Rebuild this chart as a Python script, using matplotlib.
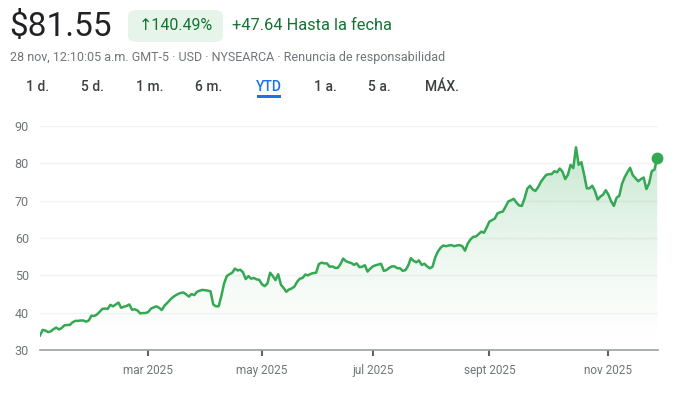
import matplotlib
matplotlib.use("Agg")
import matplotlib.pyplot as plt
from matplotlib.patches import FancyBboxPatch, Rectangle
import numpy as np
import pandas as pd

plt.rcParams["font.family"] = ["Roboto", "DejaVu Sans"]

# daily closes, Dec 31 2024 (YTD base) through Nov 28 2025
closes = [
    33.91,
    # jan
    35.4, 35.2, 34.8, 35.0, 35.6, 36.0, 35.5, 35.9, 36.6, 36.7,
    36.7, 37.4, 37.8, 37.8, 37.9, 37.9, 37.6, 37.9, 39.2, 39.1,
    # feb
    39.5, 40.2, 41.0, 41.1, 41.0, 42.1, 41.7, 42.2, 42.7, 41.3,
    41.6, 41.8, 42.2, 40.8, 40.9, 40.6, 39.8, 39.9, 39.9,
    # mar
    40.2, 41.1, 41.4, 41.7, 41.3, 40.7, 41.9, 42.6, 43.4, 44.1,
    44.6, 45.0, 45.3, 45.4, 44.9, 44.3, 45.0, 44.7, 45.6, 45.9, 46.1,
    # apr
    46.0, 45.9, 45.7, 42.2, 41.7, 41.7, 44.5, 47.8, 49.8, 50.3,
    50.7, 51.8, 51.3, 51.5, 50.8, 49.0, 49.8, 49.1, 49.3, 48.9, 48.8,
    # may
    47.6, 47.1, 47.8, 50.7, 49.8, 48.7, 50.3, 47.5, 46.6, 45.6,
    46.2, 46.5, 47.0, 48.3, 49.1, 49.3, 50.2, 50.0, 50.4, 50.6, 50.7,
    # jun
    53.0, 53.4, 53.2, 53.2, 52.3, 52.4, 52.0, 52.0, 53.0, 54.5,
    53.8, 53.5, 53.3, 52.8, 53.2, 52.2, 52.3, 52.7, 51.0, 51.8,
    # jul
    52.4, 52.7, 52.9, 53.1, 51.2, 51.4, 52.0, 52.4, 52.4, 51.9, 51.9,
    51.2, 51.4, 52.6, 54.6, 53.9, 53.5, 54.0, 52.8, 53.1, 52.4, 51.9,
    # aug
    52.3, 54.8, 56.4, 57.4, 58.0, 57.8, 58.0, 58.1, 57.8, 58.0,
    58.1, 57.8, 56.6, 58.5, 59.6, 60.3, 60.4, 61.0, 61.7, 61.4, 62.8,
    # sep
    64.4, 64.8, 65.2, 66.6, 66.9, 67.1, 68.4, 69.8, 70.1, 70.5,
    69.5, 68.7, 68.6, 70.6, 73.2, 74.0, 73.0, 72.6, 73.6, 75.0, 76.0,
    # oct
    76.9, 77.1, 77.1, 77.9, 77.6, 78.6, 77.8, 75.8, 76.9, 79.6, 78.7, 84.3,
    79.6, 80.3, 77.0, 73.3, 73.3, 74.0, 72.6, 70.3, 71.1, 71.6, 72.8,
    # nov
    71.6, 69.8, 68.6, 70.8, 71.3, 74.5, 76.3, 77.6, 78.8, 76.8,
    76.0, 75.2, 75.8, 76.2, 73.1, 74.6, 77.9, 78.3, 81.55,
]

holidays = ["2025-01-01", "2025-01-09", "2025-01-20", "2025-02-17", "2025-04-18",
            "2025-05-26", "2025-06-19", "2025-07-04", "2025-09-01", "2025-11-27"]
tick_months = [3, 5, 7, 9, 11]
tick_labels = ["mar 2025", "may 2025", "jul 2025", "sept 2025", "nov 2025"]
y_ticks = [30, 40, 50, 60, 70, 80, 90]
tabs = ["1 d.", "5 d.", "1 m.", "6 m.", "YTD", "1 a.", "5 a.", "MÁX."]
tab_x = [37, 92, 150, 209, 269, 325, 379, 442]

GREEN = "#34a853"
TEXT_GREEN = "#137333"
GRAY = "#70757a"

days = pd.bdate_range("2024-12-31", "2025-11-28")
days = days[~days.isin(pd.to_datetime(holidays))]
x = np.arange(len(closes))
tick_pos = [int(np.argmax(days.month == m)) for m in tick_months]

W, H = 673, 393
fig = plt.figure(figsize=(W / 100, H / 100), dpi=100)


def fx(px):
    return px / W


def fy(py):
    return 1 - py / H


ax = fig.add_axes([fx(40), fy(350), fx(658) - fx(40), fy(126) - fy(350)])
ax.set_xlim(0, len(closes) - 0.7)
ax.set_ylim(30, 90)

# gradient fill under the line
poly = ax.fill_between(x, closes, 30, color="none", lw=0)
grad_y = np.linspace(0, 1, 256)
rgba = np.zeros((256, 1, 4))
rgba[..., :3] = matplotlib.colors.to_rgb(GREEN)
rgba[:, 0, 3] = 0.32 * grad_y ** 1.5
img = ax.imshow(rgba, extent=[0, len(closes) - 1, 30, 90], origin="lower",
                aspect="auto", zorder=1)
img.set_clip_path(poly.get_paths()[0], transform=ax.transData)

ax.plot(x, closes, color=GREEN, lw=1.8, zorder=3, solid_joinstyle="round")
ax.plot(x[-1], closes[-1], "o", color=GREEN, ms=7.5, zorder=4, clip_on=False)

ax.set_yticks(y_ticks)
ax.set_xticks(tick_pos)
ax.set_xticklabels(tick_labels)
ax.grid(axis="y", color="#f1f3f4", lw=1)
ax.set_axisbelow(True)
for side in ["top", "right", "left"]:
    ax.spines[side].set_visible(False)
ax.spines["bottom"].set_color("#9aa0a6")
ax.spines["bottom"].set_linewidth(1.2)
ax.tick_params(axis="y", length=0, pad=8, labelsize=9, labelcolor=GRAY)
ax.tick_params(axis="x", length=4, width=1.5, color="#5f6368", pad=6,
               labelsize=8.5, labelcolor=GRAY)

# header
fig.text(fx(9), fy(27), "$81.55", fontsize=24, color="#202124", va="center", ha="left")
fig.patches.append(FancyBboxPatch((fx(128), fy(42)), fx(223) - fx(128), fy(10) - fy(42),
                                  boxstyle="round,pad=0,rounding_size=0.015",
                                  transform=fig.transFigure, fc="#e6f4ea", ec="none"))
fig.text(fx(176), fy(26), "↑140.49%", fontsize=11.5, color=TEXT_GREEN,
         va="center", ha="center", family=["Roboto", "DejaVu Sans"])
fig.text(fx(232), fy(26), "+47.64 Hasta la fecha", fontsize=11.8, color=TEXT_GREEN,
         va="center", ha="left")
fig.text(fx(10), fy(58), "28 nov, 12:10:05 a.m. GMT-5 · USD · NYSEARCA · Renuncia de responsabilidad",
         fontsize=9.0, color=GRAY, va="center", ha="left")

for label, px in zip(tabs, tab_x):
    fig.text(fx(px), fy(87), label, fontsize=10, ha="center", va="center",
             color="#1a73e8" if label == "YTD" else "#3c4043", fontweight="medium")
fig.patches.append(Rectangle((fx(257), fy(98)), fx(281) - fx(257), fy(95.5) - fy(98),
                             transform=fig.transFigure, fc="#1a73e8", ec="none"))

fig.savefig("out.png", dpi=100, facecolor="white")
